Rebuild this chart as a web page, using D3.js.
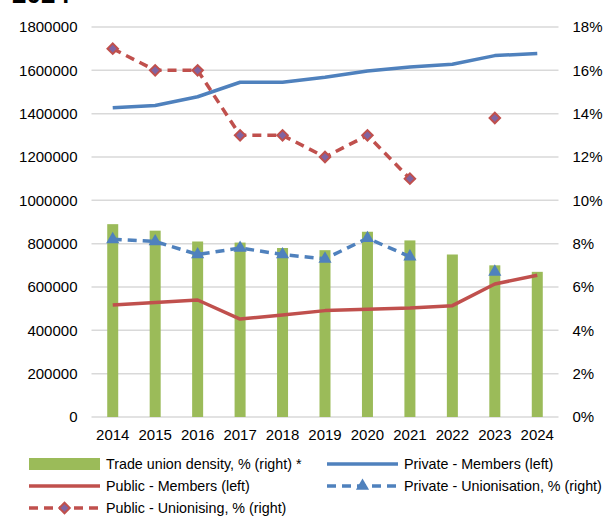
<!DOCTYPE html>
<html>
<head>
<meta charset="utf-8">
<script src="https://cdn.jsdelivr.net/npm/d3@7"></script>
<style>
  body { margin: 0; background: #fff; }
  text { font-family: "Liberation Sans", Arial, sans-serif; fill: #000; }
</style>
</head>
<body>
<div id="chart"></div>
<script>
var years = ["2014", "2015", "2016", "2017", "2018", "2019", "2020", "2021", "2022", "2023", "2024"];
var density = [8.9, 8.6, 8.1, 8.05, 7.8, 7.7, 8.55, 8.15, 7.5, 7.0, 6.7];
var privateMembers = [1427000, 1438000, 1478000, 1545000, 1545000, 1568000, 1597000, 1615000, 1628000, 1668000, 1678000];
var publicMembers = [517000, 529000, 540000, 452000, 471000, 491000, 497000, 503000, 514000, 614000, 654000];
var privateUnion = [8.2, 8.1, 7.5, 7.8, 7.5, 7.3, 8.25, 7.4, null, 6.7, null];
var publicUnion = [17, 16, 16, 13, 13, 12, 13, 11, null, 13.8, null];
var leftTicks = [0, 200000, 400000, 600000, 800000, 1000000, 1200000, 1400000, 1600000, 1800000];
var rightTicks = [0, 2, 4, 6, 8, 10, 12, 14, 16, 18];

var width = 605, height = 516;
var plotLeft = 91.5, plotRight = 558.5, plotTop = 27, plotBottom = 417;
var green = "#9BBB59", blue = "#4F81BD", red = "#C0504D", purple = "#8064A2";

var svg = d3.select("#chart").append("svg")
    .attr("width", width)
    .attr("height", height);

// title is cut off at the top edge
svg.append("text")
    .attr("x", 12)
    .attr("y", 3)
    .style("font-size", "26px")
    .style("font-weight", "bold")
    .text("2024");

var x = d3.scaleBand().domain(years).range([plotLeft, plotRight]);
var yL = d3.scaleLinear().domain([0, 1800000]).range([plotBottom, plotTop]);
var yR = d3.scaleLinear().domain([0, 18]).range([plotBottom, plotTop]);
var cx = function (i) { return x(years[i]) + x.bandwidth() / 2; };

// gridlines
svg.selectAll(".grid")
    .data(leftTicks)
    .enter()
    .append("line")
    .attr("x1", plotLeft)
    .attr("x2", plotRight)
    .attr("y1", function (d) { return yL(d); })
    .attr("y2", function (d) { return yL(d); })
    .attr("stroke", "#d9d9d9")
    .attr("stroke-width", 1.5);

// axes
var axL = svg.append("g")
    .attr("transform", "translate(" + (plotLeft - 14) + ",0)")
    .call(d3.axisLeft(yL).tickValues(leftTicks).tickSize(0).tickPadding(0).tickFormat(d3.format("d")));
var axR = svg.append("g")
    .attr("transform", "translate(" + (plotRight + 14) + ",0)")
    .call(d3.axisRight(yR).tickValues(rightTicks).tickSize(0).tickPadding(0).tickFormat(function (d) { return d + "%"; }));
var axB = svg.append("g")
    .attr("transform", "translate(0," + (plotBottom + 9) + ")")
    .call(d3.axisBottom(x).tickSize(0).tickPadding(0));
[axL, axR, axB].forEach(function (a) {
    a.select(".domain").remove();
    a.selectAll("text").style("font-size", "15px").attr("fill", "#000");
});
axB.selectAll("text").attr("dy", "0.9em");

// bars
svg.selectAll(".bar")
    .data(density)
    .enter()
    .append("rect")
    .attr("x", function (d, i) { return cx(i) - 5.5; })
    .attr("width", 11)
    .attr("y", function (d) { return yR(d); })
    .attr("height", function (d) { return plotBottom - yR(d); })
    .attr("fill", green);

function drawLine(data, scale, color, dash) {
    var line = d3.line()
        .defined(function (d) { return d !== null; })
        .x(function (d, i) { return cx(i); })
        .y(function (d) { return scale(d); });
    svg.append("path")
        .attr("d", line(data))
        .attr("fill", "none")
        .attr("stroke", color)
        .attr("stroke-width", 3.5)
        .attr("stroke-dasharray", dash ? "9,6" : null)
        .attr("stroke-linejoin", "round");
}

drawLine(publicMembers, yL, red, false);
drawLine(privateMembers, yL, blue, false);
drawLine(privateUnion, yR, blue, true);
drawLine(publicUnion, yR, red, true);

var tri = d3.symbol().type(d3.symbolTriangle).size(75);
var dia = d3.symbol().type(d3.symbolSquare).size(55);

svg.selectAll(".tri")
    .data(privateUnion.map(function (d, i) { return {v: d, i: i}; }).filter(function (d) { return d.v !== null; }))
    .enter()
    .append("path")
    .attr("d", tri)
    .attr("transform", function (d) { return "translate(" + cx(d.i) + "," + yR(d.v) + ")"; })
    .attr("fill", blue);

svg.selectAll(".dia")
    .data(publicUnion.map(function (d, i) { return {v: d, i: i}; }).filter(function (d) { return d.v !== null; }))
    .enter()
    .append("path")
    .attr("d", dia)
    .attr("transform", function (d) { return "translate(" + cx(d.i) + "," + yR(d.v) + ") rotate(45)"; })
    .attr("fill", purple)
    .attr("stroke", red)
    .attr("stroke-width", 2);

// legend
var legendItems = [
    {label: "Trade union density, % (right) *", type: "bar", color: green, x: 29, y: 464},
    {label: "Private - Members (left)", type: "line", color: blue, x: 327, y: 464},
    {label: "Public - Members (left)", type: "line", color: red, x: 29, y: 486},
    {label: "Private - Unionisation, % (right)", type: "tri", color: blue, x: 327, y: 486},
    {label: "Public - Unionising, % (right)", type: "dia", color: red, x: 29, y: 508}
];

var legend = svg.selectAll(".legend")
    .data(legendItems)
    .enter()
    .append("g")
    .attr("transform", function (d) { return "translate(" + d.x + "," + d.y + ")"; });

legend.each(function (d) {
    var g = d3.select(this);
    if (d.type === "bar") {
        g.append("rect").attr("x", 0).attr("y", -6).attr("width", 71).attr("height", 12).attr("fill", d.color);
    } else {
        g.append("line").attr("x1", 0).attr("x2", 71).attr("y1", 0).attr("y2", 0)
            .attr("stroke", d.color).attr("stroke-width", 3.5)
            .attr("stroke-dasharray", d.type === "line" ? null : "9,6");
        if (d.type === "tri") {
            g.append("path").attr("d", tri).attr("transform", "translate(35.5,0)").attr("fill", d.color);
        }
        if (d.type === "dia") {
            g.append("path").attr("d", dia).attr("transform", "translate(35.5,0) rotate(45)")
                .attr("fill", purple).attr("stroke", red).attr("stroke-width", 2);
        }
    }
    g.append("text")
        .attr("x", 77)
        .attr("dy", "0.35em")
        .style("font-size", "14.3px")
        .text(d.label);
});
</script>
</body>
</html>
